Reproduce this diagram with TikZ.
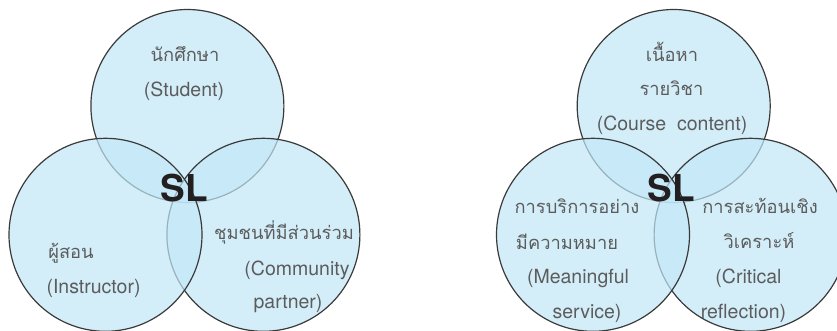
\documentclass[tikz,border=0pt]{standalone}
\usepackage{fontspec}
\setmainfont{TeX Gyre Heros}
\newfontfamily\thaifont[Script=Thai]{Loma}
\definecolor{cfill}{RGB}{193,231,247}
\definecolor{cline}{RGB}{58,58,58}
\definecolor{txtgray}{RGB}{92,92,92}
\definecolor{slcol}{RGB}{35,31,32}
\tikzset{
  venn/.style={circle, minimum size=193pt, inner sep=0pt, fill=cfill, fill opacity=0.7, draw=cline, line width=1.2pt},
  lat/.style={text=txtgray, font=\fontsize{19.5}{20}\selectfont, inner sep=0pt, anchor=base},
  tha/.style={text=txtgray, font=\thaifont\fontsize{18.3}{19}\selectfont, inner sep=0pt, anchor=base},
  sl/.style={text=slcol, font=\fontsize{37}{37}\selectfont\bfseries, inner sep=0pt, anchor=base}
}
\begin{document}
\begin{tikzpicture}[x=1pt,y=-1pt]
\useasboundingbox (0,0) rectangle (837,330);
\clip (0,0) rectangle (837,330);
% left diagram
\node[venn] (lt) at (187.4,106) {};
\node[venn] (lbr) at (263.4,234.8) {};
\node[venn] (lbl) at (105.5,234.8) {};
\node[tha] (st1) at (185,61) {นักศึกษา};
\node[lat] (st2) at (184,96) {(Student)};
\node[sl] (sl1) at (184,201.5) {SL};
\node[tha] (in1) at (71,258) {ผู้สอน};
\node[lat] (in2) at (93.5,293) {(Instructor)};
\node[tha] (cp1) at (284,239) {ชุมชนที่มีส่วนร่วม};
\node[lat] (cp2) at (297,275) {(Community};
\node[lat] (cp3) at (288,308) {partner)};
% right diagram
\node[venn] (rt) at (673.7,106) {};
\node[venn] (rbr) at (750.6,234.8) {};
\node[venn] (rbl) at (593,234.8) {};
\node[tha] (cc1) at (672,61) {เนื้อหา};
\node[tha] (cc2) at (671.5,95) {รายวิชา};
\node[lat] (cc3) at (672,130) {(Course\ \ content)};
\node[sl] (sl2) at (671,201.5) {SL};
\node[tha] (ms1) at (577,213) {การบริการอย่าง};
\node[tha] (ms2) at (567,249) {มีความหมาย};
\node[lat] (ms3) at (578,283) {(Meaningful};
\node[lat] (ms4) at (587,318) {service)};
\node[tha] (cr1) at (760,213) {การสะท้อนเชิง};
\node[tha] (cr2) at (759,248) {วิเคราะห์};
\node[lat] (cr3) at (748.5,283) {(Critical};
\node[lat] (cr4) at (743.5,318) {reflection)};
\end{tikzpicture}
\end{document}
